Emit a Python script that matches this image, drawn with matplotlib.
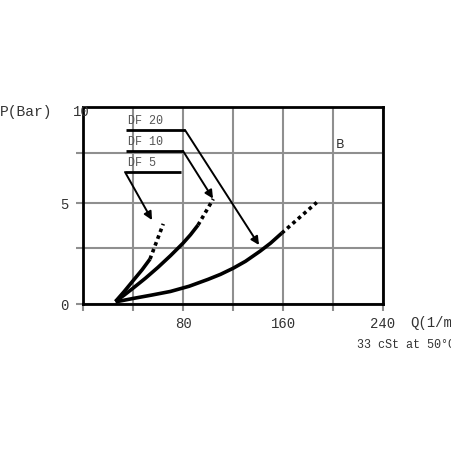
import numpy as np
import matplotlib.pyplot as plt

plt.rcParams['font.family'] = ['Liberation Mono', 'DejaVu Sans Mono']

# 曲线数据 (Q l/min, P bar)
df5_q = [26, 33, 40, 47.3, 53.6]
df5_p = [0.1, 0.6, 1.13, 1.68, 2.21]
df5_q_dot = [53.6, 64.2]
df5_p_dot = [2.21, 3.96]

df10_q = [26, 33, 40, 50, 60, 70, 80, 86, 92]
df10_p = [0.1, 0.42, 0.76, 1.26, 1.8, 2.38, 3.0, 3.42, 3.9]
df10_q_dot = [92, 104.2]
df10_p_dot = [3.9, 5.2]

df20_q = [26, 40, 55, 70, 85, 100, 110, 120, 130, 141.6, 150, 159]
df20_p = [0.08, 0.25, 0.42, 0.6, 0.86, 1.2, 1.45, 1.75, 2.1, 2.6, 3.0, 3.5]
df20_q_dot = [159, 187]
df20_p_dot = [3.5, 5.03]

labels = ['DF 20', 'DF 10', 'DF 5']
label_p = [8.63, 7.59, 6.54]
label_q0 = [34.4, 34.4, 33.6]
label_q1 = [81.6, 80.0, 78.4]
arrow_tip_q = [140.8, 104, 55.2]
arrow_tip_p = [2.91, 5.22, 4.15]

x_ticks = [0, 40, 80, 120, 160, 200, 240]
x_labels = ['', '', '80', '', '160', '', '240']
y_ticks = [0, 2.75, 5, 7.5]
y_labels = ['0', '', '5', '']

fig = plt.figure(figsize=(4.52, 4.52), dpi=100)
ax = fig.add_axes([83 / 452, 1 - 304.5 / 452, 300 / 452, 196.5 / 452])

ax.set_xlim(0, 240)
ax.set_ylim(0, 9.776)
ax.set_xticks(x_ticks)
ax.set_xticklabels(x_labels, fontsize=10, color='#333333')
ax.set_yticks(y_ticks)
ax.set_yticklabels(y_labels, fontsize=10, color='#333333')
ax.tick_params(length=5, width=1.5, color='#8f8f8f')
ax.tick_params(axis='x', pad=4)
ax.tick_params(axis='y', pad=5.5)
ax.grid(True, color='#8f8f8f', linewidth=1.5)
ax.set_axisbelow(True)
for s in ax.spines.values():
    s.set_linewidth(2)
    s.set_color('black')

# 曲线
for q, p, qd, pd in [(df5_q, df5_p, df5_q_dot, df5_p_dot),
                     (df10_q, df10_p, df10_q_dot, df10_p_dot),
                     (df20_q, df20_p, df20_q_dot, df20_p_dot)]:
    ax.plot(q, p, color='black', linewidth=2.6, solid_capstyle='butt',
            solid_joinstyle='round', zorder=3)
    ax.plot(qd, pd, color='black', linewidth=2.6, linestyle=(0, (1, 1)), zorder=3)

# 标注 + 箭头
for lab, lp, q0, q1, tq, tp in zip(labels, label_p, label_q0, label_q1,
                                   arrow_tip_q, arrow_tip_p):
    ax.plot([q0, q1], [lp, lp], color='black', linewidth=2, zorder=4,
            solid_capstyle='butt')
    start_q = q1 if lab != 'DF 5' else q0
    ax.annotate('', xy=(tq, tp), xytext=(start_q, lp),
                arrowprops=dict(arrowstyle='-|>', color='black', lw=1.4,
                                mutation_scale=12, shrinkA=0, shrinkB=0),
                zorder=4)
    ax.text(q0 + 2, lp + 0.2, lab, fontsize=8.5, color='#555555',
            ha='left', va='bottom', zorder=4)

ax.text(206, 7.94, 'B', fontsize=9, family='DejaVu Sans', color='#333333',
        ha='center', va='center')

# 轴标签
fig.text(0 / 452, 1 - 112 / 452, 'P(Bar)', fontsize=10.5, color='#333333',
         ha='left', va='center')
fig.text(81 / 452, 1 - 112 / 452, '10', fontsize=10, color='#333333',
         ha='center', va='center')
fig.text(410 / 452, 1 - 323 / 452, 'Q(1/min)', fontsize=10, color='#333333',
         ha='left', va='center')
fig.text(357 / 452, 1 - 345 / 452, '33 cSt at 50°C', fontsize=8.5,
         color='#333333', ha='left', va='center')

plt.savefig('out.png', dpi=100, facecolor='white')
